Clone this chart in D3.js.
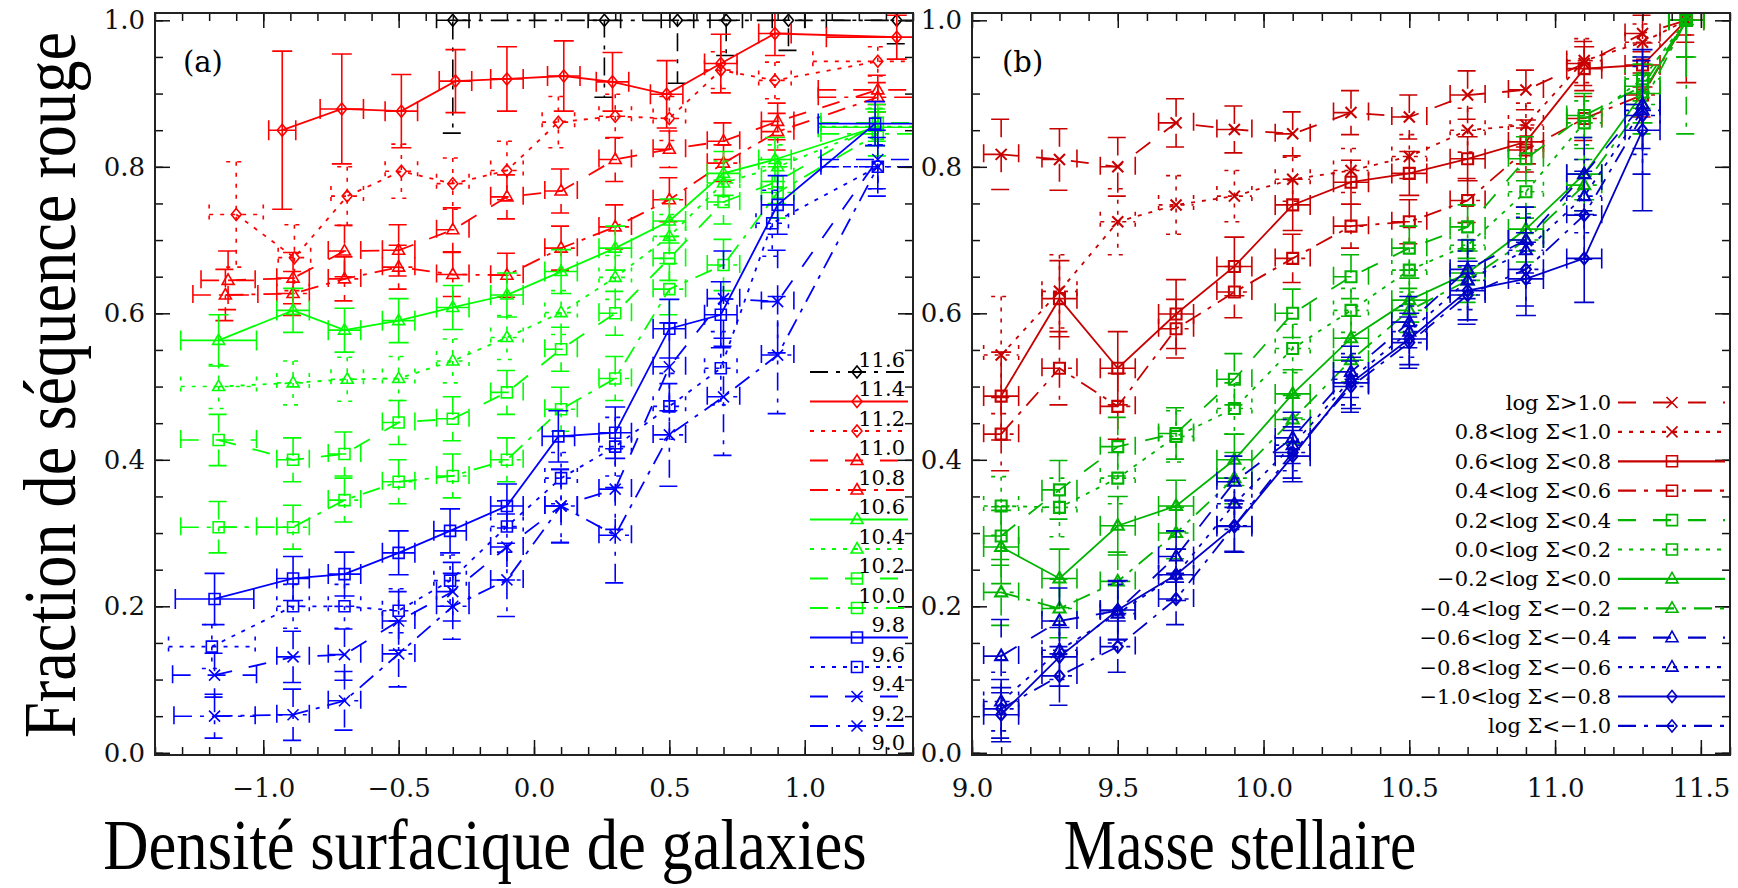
<!DOCTYPE html>
<html>
<head>
<meta charset="utf-8">
<script src="https://cdn.jsdelivr.net/npm/d3@7"></script>
<style>
  body { margin: 0; background: #fff; }
  svg { display: block; }
</style>
</head>
<body>
<svg id="chart"></svg>
<script>
// --------------------------------------------------------
// panel (a): red fraction vs surface density, one series per mass bin
// rows are [log Sigma, fraction, y error, (x error)]
// --------------------------------------------------------
const a_m114 = [[-0.30,1.0,0.154],[0.26,1.0,0.105],[0.53,1.0,0.086],[0.71,1.0,0.048],[0.94,1.0,0.041],[1.34,1.0,0.032,0.26]];
const a_m112 = [[-0.93,0.850,0.108,0.05],[-0.71,0.879,0.075,0.08],[-0.49,0.876,0.050],[-0.29,0.917,0.043],[-0.10,0.920,0.044],[0.11,0.924,0.048],[0.29,0.916,0.040],[0.49,0.899,0.046],[0.69,0.941,0.040],[0.89,0.982,0.030],[1.34,0.977,0.030,0.26]];
const a_m110 = [[-1.10,0.735,0.072,0.10],[-0.885,0.676,0.045],[-0.69,0.760,0.040],[-0.49,0.794,0.037],[-0.30,0.777,0.035],[-0.10,0.795,0.040],[0.09,0.861,0.035],[0.30,0.869,0.030],[0.50,0.866,0.030],[0.69,0.932,0.025],[0.89,0.918,0.025],[1.27,0.944,0.020,0.24]];
const a_m108 = [[-1.13,0.645,0.040,0.10],[-0.89,0.648,0.035],[-0.70,0.685,0.035],[-0.50,0.686,0.035],[-0.30,0.714,0.030],[-0.10,0.759,0.030],[0.10,0.767,0.030],[0.30,0.810,0.030],[0.50,0.824,0.025],[0.70,0.835,0.025],[0.90,0.862,0.025],[1.27,0.905,0.020,0.22]];
const a_m106 = [[-1.14,0.625,0.035,0.12],[-0.89,0.627,0.030],[-0.70,0.647,0.030],[-0.50,0.663,0.030],[-0.30,0.653,0.030],[-0.10,0.652,0.030],[0.10,0.689,0.030],[0.30,0.718,0.030],[0.50,0.755,0.030],[0.70,0.805,0.025],[0.90,0.848,0.025],[1.27,0.895,0.020,0.22]];
const a_m104 = [[-1.165,0.563,0.035,0.14],[-0.89,0.604,0.030],[-0.70,0.577,0.030],[-0.50,0.590,0.030],[-0.30,0.608,0.030],[-0.10,0.625,0.030],[0.10,0.657,0.030],[0.30,0.689,0.030],[0.50,0.726,0.030],[0.70,0.791,0.030],[0.89,0.810,0.030],[1.26,0.854,0.025,0.21]];
const a_m102 = [[-1.165,0.500,0.030,0.14],[-0.89,0.505,0.030],[-0.69,0.510,0.030],[-0.50,0.511,0.030],[-0.30,0.535,0.030],[-0.10,0.567,0.030],[0.10,0.601,0.030],[0.30,0.649,0.030],[0.50,0.705,0.030],[0.70,0.778,0.030],[0.90,0.800,0.030],[1.27,0.855,0.025,0.21]];
const a_m100 = [[-1.165,0.427,0.035,0.14],[-0.89,0.400,0.030],[-0.70,0.408,0.030],[-0.50,0.451,0.030],[-0.30,0.456,0.030],[-0.10,0.492,0.030],[0.10,0.551,0.030],[0.30,0.600,0.030],[0.50,0.675,0.030],[0.70,0.752,0.030],[0.90,0.780,0.030],[1.27,0.860,0.025,0.21]];
const a_m98  = [[-1.165,0.308,0.035,0.14],[-0.89,0.308,0.030],[-0.70,0.345,0.030],[-0.50,0.370,0.030],[-0.30,0.378,0.030],[-0.10,0.400,0.030],[0.10,0.469,0.030],[0.30,0.511,0.030],[0.50,0.633,0.035],[0.70,0.666,0.035],[0.90,0.765,0.035],[1.27,0.845,0.030,0.21]];
const a_m96  = [[-1.18,0.210,0.035,0.145],[-0.89,0.238,0.030],[-0.70,0.244,0.030],[-0.50,0.273,0.030],[-0.31,0.303,0.030],[-0.10,0.337,0.030],[0.09,0.432,0.035],[0.30,0.437,0.035],[0.50,0.579,0.040],[0.69,0.598,0.045],[0.90,0.748,0.040],[1.26,0.859,0.030,0.21]];
const a_m94  = [[-1.19,0.145,0.030,0.16],[-0.89,0.200,0.030],[-0.70,0.200,0.030],[-0.50,0.194,0.030],[-0.31,0.235,0.035],[-0.10,0.309,0.035],[0.10,0.375,0.035],[0.30,0.418,0.040],[0.50,0.473,0.045],[0.69,0.525,0.050],[0.88,0.723,0.045],[1.27,0.800,0.030,0.21]];
const a_m92  = [[-1.18,0.106,0.030,0.155],[-0.89,0.131,0.035],[-0.70,0.134,0.035],[-0.50,0.180,0.040],[-0.30,0.220,0.040],[-0.10,0.281,0.045],[0.10,0.337,0.050],[0.30,0.360,0.055],[0.50,0.527,0.060],[0.70,0.620,0.065],[0.90,0.616,0.070],[1.27,0.810,0.040,0.21]];
const a_m90  = [[-1.18,0.050,0.030,0.15],[-0.89,0.052,0.035],[-0.70,0.071,0.040],[-0.50,0.135,0.045],[-0.30,0.200,0.045],[-0.10,0.236,0.050],[0.10,0.337,0.050],[0.30,0.297,0.065],[0.50,0.434,0.070],[0.70,0.486,0.080],[0.90,0.543,0.080],[1.27,0.800,0.040,0.21]];
const densXErr = 0.06;
const massEdges = ['11.6','11.4','11.2','11.0','10.8','10.6','10.4','10.2','10.0','9.8','9.6','9.4','9.2','9.0'];

// --------------------------------------------------------
// panel (b): red fraction vs stellar mass, one series per density bin
// --------------------------------------------------------
const massX = [9.1, 9.3, 9.5, 9.7, 9.9, 10.1, 10.3, 10.5, 10.7, 10.9, 11.1, 11.3, 11.45];
const massXErr = 0.06;
const b_d10  = [0.817,0.810,0.800,0.860,0.851,0.845,0.874,0.868,0.898,0.905,0.941,0.982,1.0];
const b_d10e = [0.048,0.042,0.040,0.033,0.032,0.030,0.030,0.030,0.033,0.027,0.030,0.025,0.020];
const b_d08  = [0.543,0.630,0.725,0.748,0.760,0.783,0.795,0.814,0.850,0.857,0.945,0.970,1.0];
const b_d08e = [0.080,0.050,0.045,0.040,0.035,0.030,0.030,0.030,0.030,0.030,0.030,0.025,0.020];
const b_d06  = [0.487,0.620,0.525,0.599,0.664,0.748,0.779,0.791,0.811,0.834,0.934,0.939,1.0];
const b_d06e = [0.060,0.052,0.050,0.047,0.040,0.035,0.030,0.030,0.030,0.030,0.030,0.030,0.085];
const b_d04  = [0.435,0.525,0.473,0.579,0.629,0.675,0.719,0.725,0.754,0.823,0.866,0.898,1.0];
const b_d04e = [0.050,0.050,0.045,0.040,0.035,0.033,0.030,0.030,0.030,0.030,0.030,0.030,0.030];
const b_d02  = [0.296,0.359,0.418,0.436,0.510,0.600,0.650,0.689,0.718,0.811,0.870,0.910,1.0];
const b_d02e = [0.040,0.040,0.040,0.035,0.035,0.033,0.030,0.030,0.030,0.030,0.030,0.030,0.050];
const b_d00  = [0.337,0.335,0.375,0.432,0.470,0.552,0.604,0.659,0.693,0.766,0.860,0.920,1.0];
const b_d00e = [0.040,0.040,0.035,0.035,0.035,0.033,0.030,0.030,0.030,0.030,0.030,0.030,0.050];
const b_dm02  = [0.281,0.238,0.310,0.337,0.400,0.490,0.566,0.618,0.655,0.715,0.790,0.900,1.0];
const b_dm02e = [0.050,0.040,0.040,0.035,0.035,0.033,0.030,0.030,0.030,0.030,0.035,0.040,0.050];
const b_dm04  = [0.219,0.197,0.234,0.300,0.375,0.455,0.536,0.604,0.645,0.700,0.775,0.885,1.0];
const b_dm04e = [0.045,0.040,0.040,0.035,0.035,0.033,0.030,0.030,0.030,0.030,0.035,0.040,0.155];
const b_dm06  = [0.132,0.180,0.194,0.268,0.370,0.430,0.520,0.588,0.660,0.700,0.790,0.885,null];
const b_dm06e = [0.050,0.045,0.040,0.035,0.035,0.035,0.035,0.035,0.040,0.045,0.050,0.060,null];
const b_dm08  = [0.070,0.140,0.190,0.243,0.340,0.420,0.510,0.575,0.645,0.686,0.760,0.877,null];
const b_dm08e = [0.040,0.040,0.040,0.035,0.035,0.035,0.035,0.035,0.040,0.045,0.050,0.060,null];
const b_dm10  = [0.052,0.131,0.195,0.243,0.309,0.405,0.505,0.565,0.631,0.647,0.675,0.850,null];
const b_dm10e = [0.037,0.040,0.040,0.035,0.035,0.035,0.035,0.035,0.040,0.050,0.060,0.110,null];
const b_dlow  = [0.060,0.105,0.145,0.210,0.310,0.410,0.500,0.560,0.625,0.660,0.734,0.870,null];
const b_dlowe = [0.040,0.040,0.035,0.035,0.035,0.035,0.035,0.035,0.040,0.050,0.060,0.080,null];
const densLabels = ['log Σ>1.0','0.8<log Σ<1.0','0.6<log Σ<0.8','0.4<log Σ<0.6','0.2<log Σ<0.4','0.0<log Σ<0.2',
  '−0.2<log Σ<0.0','−0.4<log Σ<−0.2','−0.6<log Σ<−0.4','−0.8<log Σ<−0.6','−1.0<log Σ<−0.8','log Σ<−1.0'];

// --------------------------------------------------------
// styles
// --------------------------------------------------------
const W = 1738, H = 888;
const redA = '#ff0000', greenA = '#00ff00', blueA = '#0000ff', blackA = '#000000';
const redB = '#c80000', greenB = '#00b400', blueB = '#0000c8';
const tickFont = '"DejaVu Serif", serif';
const titleFont = '"Liberation Serif", "Times New Roman", serif';
const dashes = { solid: null, dotted: '4,7', dashed: '18,17', dashdot: '18,8,4,8' };
const symbols = {
    diamond: 'M0,-6L5,0L0,6L-5,0Z',
    triangle: 'M0,-6.5L6,4L-6,4Z',
    square: 'M-5.5,-5.5H5.5V5.5H-5.5Z',
    cross: 'M-5.5,-5.5L5.5,5.5M-5.5,5.5L5.5,-5.5'
};
const cap = 10;

const seriesA = [
    { pts: a_m114, color: blackA, dash: 'dashdot', sym: 'diamond' },
    { pts: a_m112, color: redA, dash: 'solid', sym: 'diamond' },
    { pts: a_m110, color: redA, dash: 'dotted', sym: 'diamond' },
    { pts: a_m108, color: redA, dash: 'dashed', sym: 'triangle' },
    { pts: a_m106, color: redA, dash: 'dashdot', sym: 'triangle' },
    { pts: a_m104, color: greenA, dash: 'solid', sym: 'triangle' },
    { pts: a_m102, color: greenA, dash: 'dotted', sym: 'triangle' },
    { pts: a_m100, color: greenA, dash: 'dashed', sym: 'square' },
    { pts: a_m98, color: greenA, dash: 'dashdot', sym: 'square' },
    { pts: a_m96, color: blueA, dash: 'solid', sym: 'square' },
    { pts: a_m94, color: blueA, dash: 'dotted', sym: 'square' },
    { pts: a_m92, color: blueA, dash: 'dashed', sym: 'cross' },
    { pts: a_m90, color: blueA, dash: 'dashdot', sym: 'cross' }
].map(s => ({ ...s, pts: s.pts.map(p => [p[0], p[1], p[2], p.length > 3 ? p[3] : densXErr]) }));

function massSeries(ys, es) {
    return massX.map((m, i) => [m, ys[i], es[i], massXErr]).filter(p => p[1] != null);
}
const seriesB = [
    { pts: massSeries(b_d10, b_d10e), color: redB, dash: 'dashed', sym: 'cross' },
    { pts: massSeries(b_d08, b_d08e), color: redB, dash: 'dotted', sym: 'cross' },
    { pts: massSeries(b_d06, b_d06e), color: redB, dash: 'solid', sym: 'square' },
    { pts: massSeries(b_d04, b_d04e), color: redB, dash: 'dashdot', sym: 'square' },
    { pts: massSeries(b_d02, b_d02e), color: greenB, dash: 'dashed', sym: 'square' },
    { pts: massSeries(b_d00, b_d00e), color: greenB, dash: 'dotted', sym: 'square' },
    { pts: massSeries(b_dm02, b_dm02e), color: greenB, dash: 'solid', sym: 'triangle' },
    { pts: massSeries(b_dm04, b_dm04e), color: greenB, dash: 'dashdot', sym: 'triangle' },
    { pts: massSeries(b_dm06, b_dm06e), color: blueB, dash: 'dashed', sym: 'triangle' },
    { pts: massSeries(b_dm08, b_dm08e), color: blueB, dash: 'dotted', sym: 'triangle' },
    { pts: massSeries(b_dm10, b_dm10e), color: blueB, dash: 'solid', sym: 'diamond' },
    { pts: massSeries(b_dlow, b_dlowe), color: blueB, dash: 'dashdot', sym: 'diamond' }
];

// --------------------------------------------------------
// scales
// --------------------------------------------------------
const y = d3.scaleLinear([-0.003, 1.01], [755, 13]);
const xa = d3.scaleLinear([-1.4, 1.4], [155, 913]);
const xb = d3.scaleLinear([9.0, 11.6], [972, 1730]);

const svg = d3.select('#chart').attr('width', W).attr('height', H);
svg.append('rect').attr('width', W).attr('height', H).attr('fill', '#fff');

drawPanel('a', xa, seriesA, d3.range(-1.4, 1.41, 0.1), [-1.0, -0.5, 0.0, 0.5, 1.0], 1.6);
drawPanel('b', xb, seriesB, d3.range(9.0, 11.61, 0.1), [9.0, 9.5, 10.0, 10.5, 11.0, 11.5], 2.1);
legendA();
legendB();
titles();

// --------------------------------------------------------
// panel drawing
// --------------------------------------------------------
function drawPanel(id, x, series, minorX, majorX, symWidth) {
    const [x0, x1] = x.range();
    const [yb, yt] = y.range();
    const g = svg.append('g').attr('class', 'panel-' + id);

    svg.append('clipPath').attr('id', 'clip-' + id)
        .append('rect').attr('x', x0).attr('y', yt).attr('width', x1 - x0).attr('height', yb - yt);
    const layer = g.append('g').attr('clip-path', `url(#clip-${id})`);

    const line = d3.line().x(p => x(p[0])).y(p => y(p[1]));

    series.forEach(s => {
        const sg = layer.append('g').attr('stroke', s.color).attr('fill', 'none');
        sg.append('path')
            .attr('d', line(s.pts))
            .attr('stroke-width', 1.8)
            .attr('stroke-dasharray', dashes[s.dash]);
        const err = s.pts.map(p => {
            const cx = x(p[0]), cy = y(p[1]);
            const t = y(p[1] + p[2]), b = y(p[1] - p[2]);
            const l = x(p[0] - p[3]), r = x(p[0] + p[3]);
            return `M${cx},${t}V${b}M${cx - cap},${t}h${2 * cap}M${cx - cap},${b}h${2 * cap}` +
                `M${l},${cy}H${r}M${l},${cy - cap}v${2 * cap}M${r},${cy - cap}v${2 * cap}`;
        }).join('');
        sg.append('path')
            .attr('d', err)
            .attr('stroke-width', 1.6)
            .attr('stroke-dasharray', dashes[s.dash]);
        sg.selectAll('path.sym')
            .data(s.pts)
            .join('path')
            .attr('class', 'sym')
            .attr('transform', p => `translate(${x(p[0])},${y(p[1])})`)
            .attr('d', symbols[s.sym])
            .attr('stroke-width', symWidth);
    });

    // ticks on all four sides, pointing inwards
    const ticks = g.append('g').attr('color', '#111');
    const minorY = d3.range(0, 1.001, 0.05);
    const majorY = [0, 0.2, 0.4, 0.6, 0.8, 1.0];

    ticks.append('g').attr('transform', `translate(0,${yb})`)
        .call(d3.axisBottom(x).tickValues(minorX).tickSize(-8).tickSizeOuter(0).tickFormat(''));
    ticks.append('g').attr('transform', `translate(0,${yb})`)
        .call(d3.axisBottom(x).tickValues(majorX).tickSize(-15).tickSizeOuter(0).tickPadding(24).tickFormat(d3.format('.1f')));
    ticks.append('g').attr('transform', `translate(0,${yt})`)
        .call(d3.axisTop(x).tickValues(minorX).tickSize(-8).tickSizeOuter(0).tickFormat(''));
    ticks.append('g').attr('transform', `translate(0,${yt})`)
        .call(d3.axisTop(x).tickValues(majorX).tickSize(-15).tickSizeOuter(0).tickFormat(''));
    ticks.append('g').attr('transform', `translate(${x0},0)`)
        .call(d3.axisLeft(y).tickValues(minorY).tickSize(-8).tickSizeOuter(0).tickFormat(''));
    ticks.append('g').attr('transform', `translate(${x0},0)`)
        .call(d3.axisLeft(y).tickValues(majorY).tickSize(-15).tickSizeOuter(0).tickPadding(10).tickFormat(d3.format('.1f')));
    ticks.append('g').attr('transform', `translate(${x1},0)`)
        .call(d3.axisRight(y).tickValues(minorY).tickSize(-8).tickSizeOuter(0).tickFormat(''));
    ticks.append('g').attr('transform', `translate(${x1},0)`)
        .call(d3.axisRight(y).tickValues(majorY).tickSize(-15).tickSizeOuter(0).tickFormat(''));
    ticks.selectAll('.domain').remove();
    ticks.selectAll('.tick line').attr('stroke-width', 1.5);
    ticks.selectAll('.tick text')
        .attr('font-family', tickFont)
        .attr('font-size', 26)
        .attr('fill', '#111');

    g.append('rect')
        .attr('x', x0).attr('y', yt).attr('width', x1 - x0).attr('height', yb - yt)
        .attr('fill', 'none').attr('stroke', '#222').attr('stroke-width', 2);

    g.append('text')
        .attr('x', x0 + (id === 'a' ? 28 : 30)).attr('y', 72)
        .attr('font-family', tickFont).attr('font-size', 29)
        .text(`(${id})`);
}

function legendSample(g, s, xl, xr, xm, yy) {
    const lg = g.append('g').attr('stroke', s.color).attr('fill', 'none');
    lg.append('path').attr('d', `M${xl},${yy}H${xr}`)
        .attr('stroke-width', 2.2).attr('stroke-dasharray', dashes[s.dash]);
    lg.append('path').attr('transform', `translate(${xm},${yy})`)
        .attr('d', symbols[s.sym]).attr('stroke-width', 1.6);
}

function legendA() {
    const g = svg.append('g').attr('class', 'legend-a');
    seriesA.forEach((s, i) => legendSample(g, s, 810, 908, 857, 372 + i * 29.5));
    g.selectAll('text').data(massEdges).join('text')
        .attr('x', 905).attr('y', (d, k) => 359 + k * 29.5 + 7.5)
        .attr('text-anchor', 'end')
        .attr('font-family', tickFont).attr('font-size', 21)
        .text(d => d);
}

function legendB() {
    const g = svg.append('g').attr('class', 'legend-b');
    seriesB.forEach((s, i) => legendSample(g, s, 1618, 1725, 1672, 402.5 + i * 29.4));
    g.selectAll('text').data(densLabels).join('text')
        .attr('x', 1611).attr('y', (d, i) => 402.5 + i * 29.4 + 7.5)
        .attr('text-anchor', 'end')
        .attr('font-family', tickFont).attr('font-size', 21)
        .text(d => d);
}

function titles() {
    svg.append('text')
        .attr('transform', 'translate(75,385) rotate(-90) scale(0.87,1)')
        .attr('text-anchor', 'middle')
        .attr('font-family', titleFont).attr('font-size', 74)
        .text('Fraction de séquence rouge');
    svg.append('text')
        .attr('transform', 'translate(485,869) scale(0.87,1)')
        .attr('text-anchor', 'middle')
        .attr('font-family', titleFont).attr('font-size', 72)
        .text('Densité surfacique de galaxies');
    svg.append('text')
        .attr('transform', 'translate(1240,869) scale(0.82,1)')
        .attr('text-anchor', 'middle')
        .attr('font-family', titleFont).attr('font-size', 72)
        .text('Masse stellaire');
}
</script>
</body>
</html>
